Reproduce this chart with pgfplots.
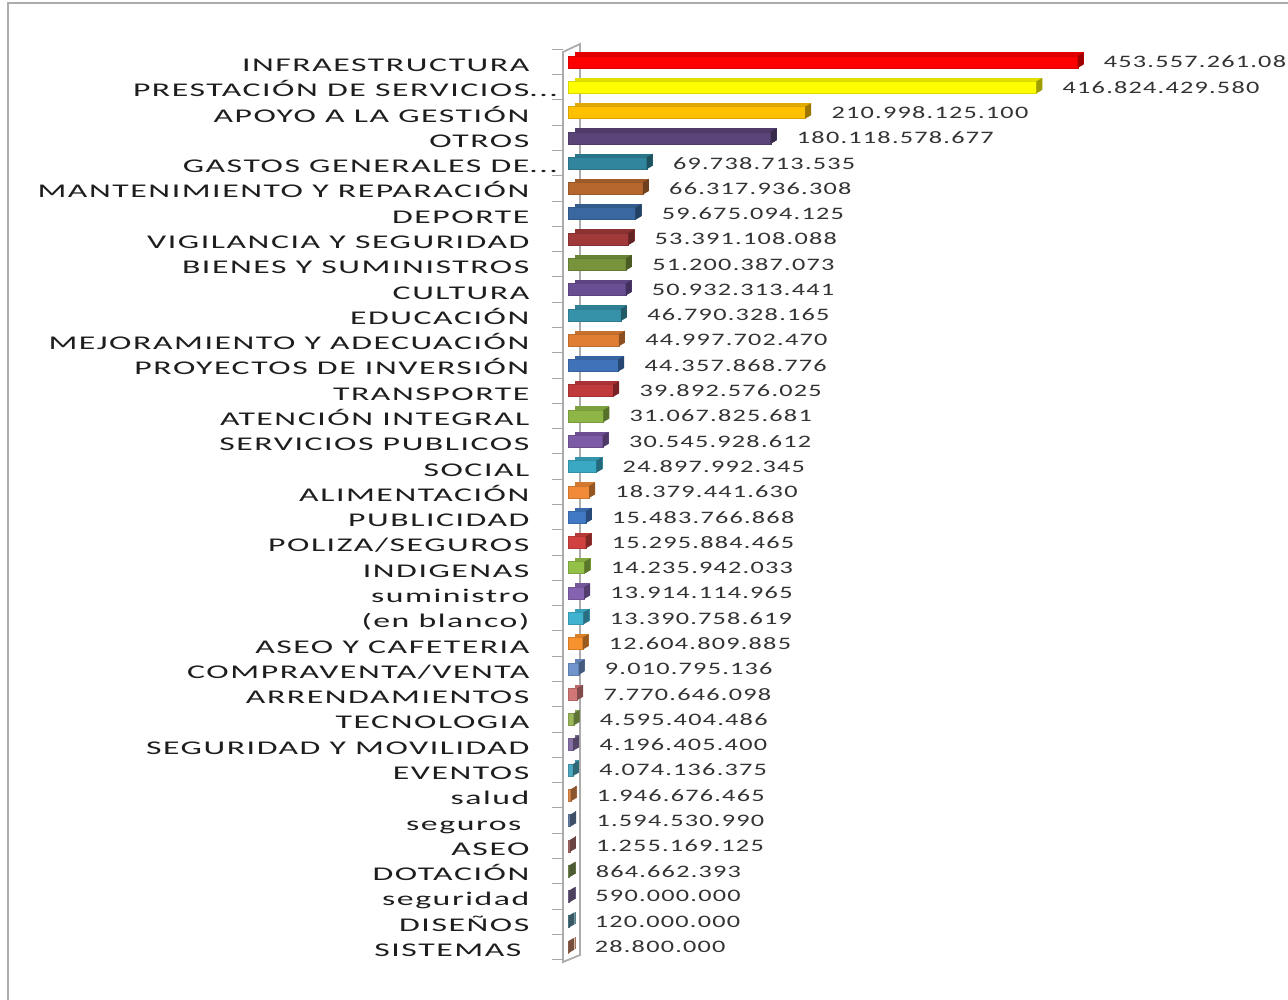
\documentclass[border=0pt]{standalone}
\usepackage{fontspec}
\usepackage{pgfplots}
\pgfplotsset{compat=1.18}
\newfontfamily\labfont{Carlito}[FakeStretch=1.74,LetterSpace=8]
\newfontfamily\numfontface{Carlito}[FakeStretch=1.5,LetterSpace=7]
\newcommand\numfont{\numfontface\fontsize{17.5}{20}\selectfont}
\definecolor{labc}{HTML}{1E1E1E}
\definecolor{numc}{HTML}{333333}
\definecolor{c1}{HTML}{FF0000}
\definecolor{c2}{HTML}{FFFF00}
\definecolor{c3}{HTML}{FFC000}
\definecolor{c4}{HTML}{5B4478}
\definecolor{c5}{HTML}{31859C}
\definecolor{c6}{HTML}{B5672D}
\definecolor{c7}{HTML}{3A67A0}
\definecolor{c8}{HTML}{A0393A}
\definecolor{c9}{HTML}{77933C}
\definecolor{c10}{HTML}{6A4E94}
\definecolor{c11}{HTML}{3592A8}
\definecolor{c12}{HTML}{E07F34}
\definecolor{c13}{HTML}{3F72B8}
\definecolor{c14}{HTML}{C0393B}
\definecolor{c15}{HTML}{8DB646}
\definecolor{c16}{HTML}{7D5BA6}
\definecolor{c17}{HTML}{3BA8C3}
\definecolor{c18}{HTML}{F08A36}
\definecolor{c19}{HTML}{4279C5}
\definecolor{c20}{HTML}{D0413F}
\definecolor{c21}{HTML}{93C047}
\definecolor{c22}{HTML}{8663B0}
\definecolor{c23}{HTML}{3FB3D0}
\definecolor{c24}{HTML}{F7922F}
\definecolor{c25}{HTML}{7095CD}
\definecolor{c26}{HTML}{D17778}
\definecolor{c27}{HTML}{9AB85A}
\definecolor{c28}{HTML}{8570A6}
\definecolor{c29}{HTML}{4AA8C0}
\definecolor{c30}{HTML}{E08A4A}
\definecolor{c31}{HTML}{6680A8}
\definecolor{c32}{HTML}{A96A6A}
\definecolor{c33}{HTML}{7C9456}
\definecolor{c34}{HTML}{7D6A96}
\definecolor{c35}{HTML}{5B8FA0}
\definecolor{c36}{HTML}{C08060}
% #1 value (thousand millions), #2 row, #3 colour, #4 printed value
\newcommand\bb[4]{%
  \addplot[xbar, bar width=12pt, bar shift=0pt, draw=none, fill=#3!88!black,
    xshift=6pt, yshift=3.5pt, forget plot,
    nodes near coords={}, point meta=x,
    every node near coord/.style={anchor=east, inner sep=0pt, minimum width=6pt,
      minimum height=12pt, fill=#3!62!black, yslant=0.58}]
    coordinates {(#1,#2)};
  \addplot[xbar, bar width=12pt, bar shift=0pt, draw=#3!85!black, line width=0.4pt, fill=#3,
    forget plot, nodes near coords, point meta=explicit symbolic,
    every node near coord/.style={anchor=west, xshift=26pt, inner sep=0pt,
      font=\numfont, text=numc}]
    coordinates {(#1,#2) [#4]};
}
\begin{document}
\begin{tikzpicture}[x=1pt,y=1pt]
\path[use as bounding box] (0,0) rectangle (1288,999);
\clip (0,0) rectangle (1288,999);
\fill[white] (0,0) rectangle (1288,999);
\draw[gray!65, line width=1.6pt] (8,-2) -- (8,996) -- (1290,996);
% wall
\foreach \k in {0,...,36} {\draw[gray!70, line width=1pt] (552,{39.4+\k*25.286}) -- (563,{39.4+\k*25.286});}
\draw[gray!65, line width=1.8pt] (563,37) -- (563,947) -- (580,955) -- (580,44) -- cycle;
\begin{axis}[
  at={(568.6pt,39.4pt)}, anchor=south west,
  scale only axis, width=719.4pt, height=910.25pt,
  xmin=0, xmax=640.9, ymin=-0.5, ymax=35.5,
  hide x axis,
  axis y line=left, y axis line style={draw=none},
  major tick length=0pt,
  ytick={0,...,35},
  yticklabels={SISTEMAS\kern8pt, DISEÑOS, seguridad, DOTACIÓN, ASEO, seguros\kern8pt, salud, EVENTOS,
    SEGURIDAD Y MOVILIDAD, TECNOLOGIA, ARRENDAMIENTOS, COMPRAVENTA/VENTA, ASEO Y CAFETERIA,
    (en blanco), suministro, INDIGENAS, POLIZA/SEGUROS, PUBLICIDAD, ALIMENTACIÓN, SOCIAL,
    SERVICIOS PUBLICOS, ATENCIÓN INTEGRAL, TRANSPORTE, PROYECTOS DE INVERSIÓN,
    MEJORAMIENTO Y ADECUACIÓN, EDUCACIÓN, CULTURA, BIENES Y SUMINISTROS,
    VIGILANCIA Y SEGURIDAD, DEPORTE, MANTENIMIENTO Y REPARACIÓN,
    GASTOS GENERALES DE\rlap{...}, OTROS, APOYO A LA GESTIÓN,
    PRESTACIÓN DE SERVICIOS\rlap{...}, INFRAESTRUCTURA},
  yticklabel style={font=\labfont\fontsize{19.4}{22}\selectfont, text=labc, xshift=-39pt, yshift=-3pt,
    inner sep=0pt, text height=13pt, text depth=0pt},
  clip=false,
]
\bb{453.557261086}{35}{c1}{453.557.261.086}
\bb{416.824429580}{34}{c2}{416.824.429.580}
\bb{210.998125100}{33}{c3}{210.998.125.100}
\bb{180.118578677}{32}{c4}{180.118.578.677}
\bb{69.738713535}{31}{c5}{69.738.713.535}
\bb{66.317936308}{30}{c6}{66.317.936.308}
\bb{59.675094125}{29}{c7}{59.675.094.125}
\bb{53.391108088}{28}{c8}{53.391.108.088}
\bb{51.200387073}{27}{c9}{51.200.387.073}
\bb{50.932313441}{26}{c10}{50.932.313.441}
\bb{46.790328165}{25}{c11}{46.790.328.165}
\bb{44.997702470}{24}{c12}{44.997.702.470}
\bb{44.357868776}{23}{c13}{44.357.868.776}
\bb{39.892576025}{22}{c14}{39.892.576.025}
\bb{31.067825681}{21}{c15}{31.067.825.681}
\bb{30.545928612}{20}{c16}{30.545.928.612}
\bb{24.897992345}{19}{c17}{24.897.992.345}
\bb{18.379441630}{18}{c18}{18.379.441.630}
\bb{15.483766868}{17}{c19}{15.483.766.868}
\bb{15.295884465}{16}{c20}{15.295.884.465}
\bb{14.235942033}{15}{c21}{14.235.942.033}
\bb{13.914114965}{14}{c22}{13.914.114.965}
\bb{13.390758619}{13}{c23}{13.390.758.619}
\bb{12.604809885}{12}{c24}{12.604.809.885}
\bb{9.010795136}{11}{c25}{9.010.795.136}
\bb{7.770646098}{10}{c26}{7.770.646.098}
\bb{4.595404486}{9}{c27}{4.595.404.486}
\bb{4.196405400}{8}{c28}{4.196.405.400}
\bb{4.074136375}{7}{c29}{4.074.136.375}
\bb{1.946676465}{6}{c30}{1.946.676.465}
\bb{1.594530990}{5}{c31}{1.594.530.990}
\bb{1.255169125}{4}{c32}{1.255.169.125}
\bb{0.864662393}{3}{c33}{864.662.393}
\bb{0.590000000}{2}{c34}{590.000.000}
\bb{0.120000000}{1}{c35}{120.000.000}
\bb{0.028800000}{0}{c36}{28.800.000}
\end{axis}
\end{tikzpicture}
\end{document}
